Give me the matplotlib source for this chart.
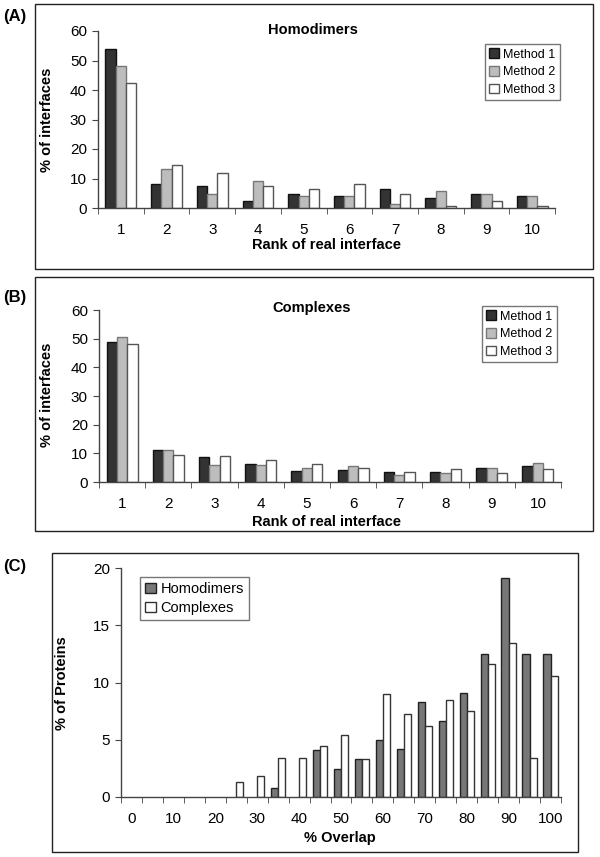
import matplotlib
matplotlib.use('Agg')
import matplotlib.pyplot as plt
from matplotlib.patches import Rectangle
import numpy as np

plt.rcParams['font.family'] = ['Liberation Sans', 'DejaVu Sans']

ranks = ['1', '2', '3', '4', '5', '6', '7', '8', '9', '10']
methods = ['Method 1', 'Method 2', 'Method 3']

homo_m1 = [54.0, 8.3, 7.4, 2.4, 4.9, 4.0, 6.3, 3.3, 4.9, 4.0]
homo_m2 = [48.1, 13.2, 4.8, 9.2, 4.0, 4.0, 1.4, 5.8, 4.9, 4.0]
homo_m3 = [42.4, 14.7, 11.7, 7.4, 6.4, 8.3, 4.9, 0.8, 2.4, 0.8]

comp_m1 = [48.8, 11.1, 8.6, 6.4, 3.9, 4.2, 3.6, 3.6, 4.8, 5.5]
comp_m2 = [50.7, 11.1, 5.9, 5.8, 4.8, 5.6, 2.3, 3.3, 4.8, 6.6]
comp_m3 = [48.3, 9.4, 9.0, 7.7, 6.4, 4.9, 3.4, 4.5, 3.3, 4.5]

overlap = list(range(0, 105, 5))
ov_homo = [0, 0, 0, 0, 0, 0, 0, 0.82, 0, 4.14, 2.48, 3.29, 4.98, 4.17, 8.33,
           6.67, 9.12, 12.5, 19.1, 12.5, 12.5]
ov_comp = [0, 0, 0, 0, 0, 1.3, 1.86, 3.38, 3.38, 4.43, 5.45, 3.35, 9.03, 7.22,
           6.18, 8.5, 7.54, 11.6, 13.43, 3.38, 10.57]

W, H = 600, 857
fig = plt.figure(figsize=(6, 8.57), dpi=100)


def ax_at(l, r, t, b):
    return fig.add_axes([l / W, 1 - b / H, (r - l) / W, (b - t) / H])


def px(x, y):
    return x / W, 1 - y / H


def style_axes(ax):
    for s in ['top', 'right']:
        ax.spines[s].set_visible(False)
    for s in ['left', 'bottom']:
        ax.spines[s].set_color('#444444')
        ax.spines[s].set_linewidth(1.0)
    ax.tick_params(axis='y', direction='out', length=4, color='#444444', labelsize=11, pad=4)
    ax.tick_params(axis='x', which='minor', direction='out', length=4, color='#444444')
    ax.tick_params(axis='x', which='major', length=0, labelsize=11, pad=11)


colors = ['#333333', '#bdbdbd', 'white']
edges = ['#111111', '#777777', '#555555']


def method_panel(ax, series):
    x = np.arange(len(ranks))
    w = 0.225
    for i, vals in enumerate(series):
        ax.bar(x + (i - 1) * w, vals, w, color=colors[i], edgecolor=edges[i],
               linewidth=1.0, label=methods[i])
    ax.set_xlim(-0.5, len(ranks) - 0.5)
    ax.set_ylim(0, 60)
    ax.set_yticks(range(0, 61, 10))
    ax.set_xticks(x)
    ax.set_xticklabels(ranks)
    ax.set_xticks(np.arange(-0.5, len(ranks), 1), minor=True)
    style_axes(ax)


def add_legend(ax, x0, y0, fs, hl):
    leg = ax.legend(loc='upper left', bbox_to_anchor=(x0, y0),
                    fontsize=fs, frameon=True, fancybox=False, edgecolor='#555555',
                    handlelength=hl, handleheight=hl, handletextpad=0.3,
                    borderpad=0.35, labelspacing=0.45, borderaxespad=0)
    leg.get_frame().set_linewidth(1.0)
    return leg


# Panel A
fig.patches.append(Rectangle(px(35, 269), 558 / W, 265 / H, transform=fig.transFigure,
                             fill=False, edgecolor='#222222', linewidth=1.0))
axA = ax_at(98, 555, 31, 208)
method_panel(axA, [homo_m1, homo_m2, homo_m3])
add_legend(axA, (485 - 98) / 457, (208 - 44) / 177, 9, 0.8)
fig.text(*px(313, 30), 'Homodimers', ha='center', va='center', fontsize=10.5, fontweight='bold')
fig.text(*px(326, 245), 'Rank of real interface', ha='center', va='center', fontsize=10.5, fontweight='bold')
fig.text(*px(47, 120), '% of interfaces', ha='center', va='center', rotation=90, fontsize=10.5, fontweight='bold')
fig.text(*px(3, 16), '(A)', ha='left', va='center', fontsize=12, fontweight='bold')

# Panel B
fig.patches.append(Rectangle(px(35, 531), 558 / W, 254 / H, transform=fig.transFigure,
                             fill=False, edgecolor='#222222', linewidth=1.0))
axB = ax_at(99, 561, 310, 482)
method_panel(axB, [comp_m1, comp_m2, comp_m3])
add_legend(axB, (482 - 99) / 462, (482 - 306) / 172, 9, 0.8)
fig.text(*px(312, 308), 'Complexes', ha='center', va='center', fontsize=10.5, fontweight='bold')
fig.text(*px(326, 522), 'Rank of real interface', ha='center', va='center', fontsize=10.5, fontweight='bold')
fig.text(*px(47, 395), '% of interfaces', ha='center', va='center', rotation=90, fontsize=10.5, fontweight='bold')
fig.text(*px(3, 297), '(B)', ha='left', va='center', fontsize=12, fontweight='bold')

# Panel C
fig.patches.append(Rectangle(px(52, 852), 526 / W, 299 / H, transform=fig.transFigure,
                             fill=False, edgecolor='#222222', linewidth=1.0))
axC = ax_at(121, 561, 568, 797)
xc = np.arange(len(overlap))
wc = 0.34
h_arr = np.array(ov_homo)
c_arr = np.array(ov_comp)
mh = h_arr > 0
mc = c_arr > 0
axC.bar(xc[mh] - wc / 2, h_arr[mh], wc, color='#777777', edgecolor='#222222', linewidth=1.0, label='Homodimers')
axC.bar(xc[mc] + wc / 2, c_arr[mc], wc, color='white', edgecolor='#333333', linewidth=1.0, label='Complexes')
axC.set_xlim(-0.5, len(overlap) - 0.5)
axC.set_ylim(0, 20)
axC.set_yticks(range(0, 21, 5))
axC.set_xticks(xc[::2])
axC.set_xticklabels([str(v) for v in overlap[::2]])
axC.set_xticks(np.arange(-0.5, len(overlap), 1), minor=True)
style_axes(axC)
legC = axC.legend(loc='upper left', bbox_to_anchor=((140 - 121) / 440, (797 - 577) / 229),
                  fontsize=10.5, frameon=True, fancybox=False, edgecolor='#555555',
                  handlelength=0.75, handleheight=0.75, handletextpad=0.3,
                  borderpad=0.35, labelspacing=0.35, borderaxespad=0)
legC.get_frame().set_linewidth(1.0)
fig.text(*px(340, 838), '% Overlap', ha='center', va='center', fontsize=10.5, fontweight='bold')
fig.text(*px(62, 683), '% of Proteins', ha='center', va='center', rotation=90, fontsize=10.5, fontweight='bold')
fig.text(*px(3, 567), '(C)', ha='left', va='center', fontsize=12, fontweight='bold')

fig.savefig('out.png', dpi=100)
